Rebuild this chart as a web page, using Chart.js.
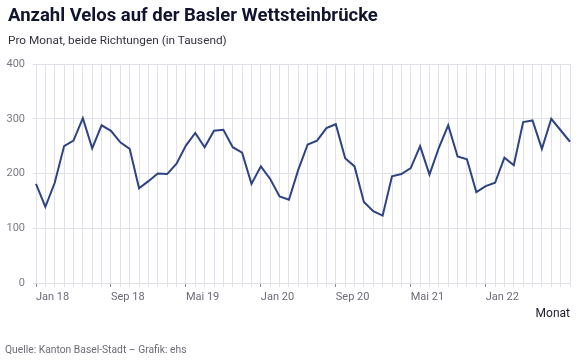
<!DOCTYPE html>
<html>
<head>
<meta charset="utf-8">
<script src="https://cdn.jsdelivr.net/npm/chart.js@4.4.1/dist/chart.umd.min.js"></script>
<style>
  html, body { margin: 0; padding: 0; background: #ffffff; }
  body { width: 582px; height: 362px; position: relative; overflow: hidden; font-family: "Roboto", "Noto Sans", sans-serif; }
  #chart { position: absolute; left: 0; top: 0; }
  .txt { position: absolute; white-space: nowrap; z-index: 2; }
  #title { left: 8px; top: 5px; font-size: 18.5px; line-height: 20px; font-weight: 700; color: #11142e; }
  #subtitle { left: 8px; top: 32px; font-size: 11.8px; line-height: 16px; color: #333340; }
  #source { left: 5px; top: 343px; font-size: 10.3px; line-height: 14px; color: #6b6b78; }
</style>
</head>
<body>
<div id="title" class="txt">Anzahl Velos auf der Basler Wettsteinbrücke</div>
<div id="subtitle" class="txt">Pro Monat, beide Richtungen (in Tausend)</div>
<div id="source" class="txt">Quelle: Kanton Basel-Stadt – Grafik: ehs</div>
<canvas id="chart" width="582" height="362"></canvas>
<script>
// Categories: months Jan 2018 – Okt 2022
const categories = [
  'Jan 18','Feb 18','Mär 18','Apr 18','Mai 18','Jun 18','Jul 18','Aug 18','Sep 18','Okt 18','Nov 18','Dez 18',
  'Jan 19','Feb 19','Mär 19','Apr 19','Mai 19','Jun 19','Jul 19','Aug 19','Sep 19','Okt 19','Nov 19','Dez 19',
  'Jan 20','Feb 20','Mär 20','Apr 20','Mai 20','Jun 20','Jul 20','Aug 20','Sep 20','Okt 20','Nov 20','Dez 20',
  'Jan 21','Feb 21','Mär 21','Apr 21','Mai 21','Jun 21','Jul 21','Aug 21','Sep 21','Okt 21','Nov 21','Dez 21',
  'Jan 22','Feb 22','Mär 22','Apr 22','Mai 22','Jun 22','Jul 22','Aug 22','Sep 22','Okt 22'
];

// Velos pro Monat (in Tausend)
const velos = [
  181, 139, 183, 250, 260, 301, 246, 288, 278, 257, 245, 173,
  186, 200, 199, 218, 251, 274, 248, 278, 280, 248, 238, 181,
  213, 190, 158, 152, 207, 253, 260, 283, 290, 228, 213, 148,
  131, 123, 195, 199, 210, 250, 198, 247, 288, 231, 226, 166,
  177, 183, 229, 215, 294, 297, 245, 300, 279, 258
];

// Labelled ticks on the x axis
const tickLabels = ['Jan 18', 'Sep 18', 'Mai 19', 'Jan 20', 'Sep 20', 'Mai 21', 'Jan 22'];

// Y axis ticks
const yTicks = [0, 100, 200, 300, 400];

const gridColor = '#e0e0e9';

Chart.defaults.font.family = '"Roboto", "Noto Sans", sans-serif';

new Chart(document.getElementById('chart'), {
  type: 'line',
  data: {
    labels: categories,
    datasets: [{
      label: 'Velos',
      data: velos,
      borderColor: '#2d4383',
      borderWidth: 2,
      pointRadius: 0,
      pointHoverRadius: 0,
      tension: 0,
      fill: false
    }]
  },
  options: {
    responsive: false,
    animation: false,
    devicePixelRatio: 1,
    layout: { padding: { top: 64, right: 12, bottom: 39, left: 0 } },
    plugins: {
      legend: { display: false },
      tooltip: { enabled: false },
      title: { display: false }
    },
    scales: {
      x: {
        type: 'category',
        offset: false,
        afterFit: s => { s.height = 40; },
        border: { display: true, color: gridColor },
        grid: {
          color: gridColor,
          lineWidth: 1,
          offset: false,
          drawTicks: true,
          tickLength: 4,
          tickColor: ctx => (tickLabels.includes(categories[ctx.index]) ? '#8a8a96' : gridColor)
        },
        ticks: {
          autoSkip: false,
          maxRotation: 0,
          minRotation: 0,
          align: 'start',
          padding: 4,
          color: '#6b6b78',
          font: { size: 11 },
          callback: (v, i) => (tickLabels.includes(categories[i]) ? categories[i] : '')
        },
        title: {
          display: true,
          text: 'Monat',
          align: 'end',
          color: '#1d1d2e',
          font: { size: 12 },
          padding: { top: 0, bottom: 2 }
        }
      },
      y: {
        min: yTicks[0],
        max: yTicks[yTicks.length - 1],
        afterFit: s => { s.width = 36; },
        afterBuildTicks: s => { s.ticks = yTicks.map(v => ({ value: v })); },
        border: { display: true, color: gridColor },
        grid: { color: gridColor, lineWidth: 1, drawTicks: true, tickLength: 3, tickColor: gridColor },
        ticks: {
          padding: 8,
          color: '#7a7a86',
          font: { size: 11 }
        }
      }
    }
  }
});
</script>
</body>
</html>
